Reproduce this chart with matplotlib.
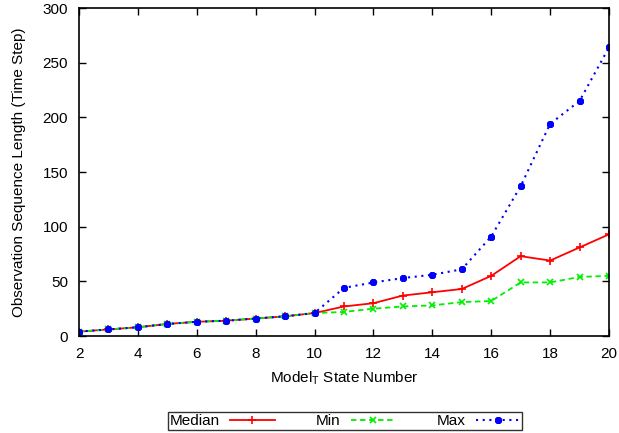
import matplotlib
matplotlib.use("Agg")
import matplotlib.pyplot as plt

plt.rcParams['font.family'] = ['Liberation Sans', 'DejaVu Sans']

states = list(range(2, 21))
median = [4, 6, 8, 11, 13, 14, 16, 18, 21, 27, 30, 37, 40, 43, 55, 73, 69, 81, 93]
minv = [4, 6, 8, 11, 13, 14, 16, 18, 21, 22, 25, 27, 28, 31, 32, 49, 49, 54, 55]
maxv = [4, 6, 8, 11, 13, 14, 16, 18, 21, 44, 49, 53, 56, 61, 91, 137, 194, 215, 264]
xticks = [2, 4, 6, 8, 10, 12, 14, 16, 18, 20]
yticks = [0, 50, 100, 150, 200, 250, 300]

fig = plt.figure(figsize=(6.19, 4.33), dpi=100)
ax = fig.add_axes([79/619, 1-336/433, (609-79)/619, (336-8)/433])

ax.plot(states, median, color='#ff0000', linestyle='-', linewidth=1.3,
        marker='+', markersize=6, markeredgewidth=1.2, label='Median')
ax.plot(states, minv, color='#00ee00', linestyle=(0, (3, 2)), linewidth=1.3,
        marker='x', markersize=5, markeredgewidth=1.2, label='Min')
ax.plot(states, maxv, color='#0000ff', linestyle=(0, (1, 2.2)), linewidth=1.5,
        marker=(8, 2, 0), markersize=5, markeredgewidth=1.5, label='Max')

ax.set_xlim(2, 20)
ax.set_ylim(0, 300)
ax.set_xticks(xticks)
ax.set_yticks(yticks)
ax.tick_params(axis='both', direction='in', top=True, right=True, length=5,
               width=1, labelsize=11)
ax.tick_params(axis='x', pad=8)
ax.tick_params(axis='y', pad=8)
for s in ax.spines.values():
    s.set_linewidth(1.2)

ax.set_xlabel('Model$_\\mathregular{T}$ State Number', fontsize=11, labelpad=6)
ax.set_ylabel('Observation Sequence Length (Time Step)', fontsize=11, labelpad=12)

leg = fig.legend(loc='center', bbox_to_anchor=(345/619, 1-421/433), ncol=3,
                 markerfirst=False, fancybox=False, frameon=True,
                 fontsize=11, handlelength=2.9, columnspacing=2.7,
                 borderpad=0.1, handletextpad=0.7, borderaxespad=0)
leg.get_frame().set_edgecolor('black')
leg.get_frame().set_linewidth(1.0)

fig.savefig('out.png', dpi=100)
